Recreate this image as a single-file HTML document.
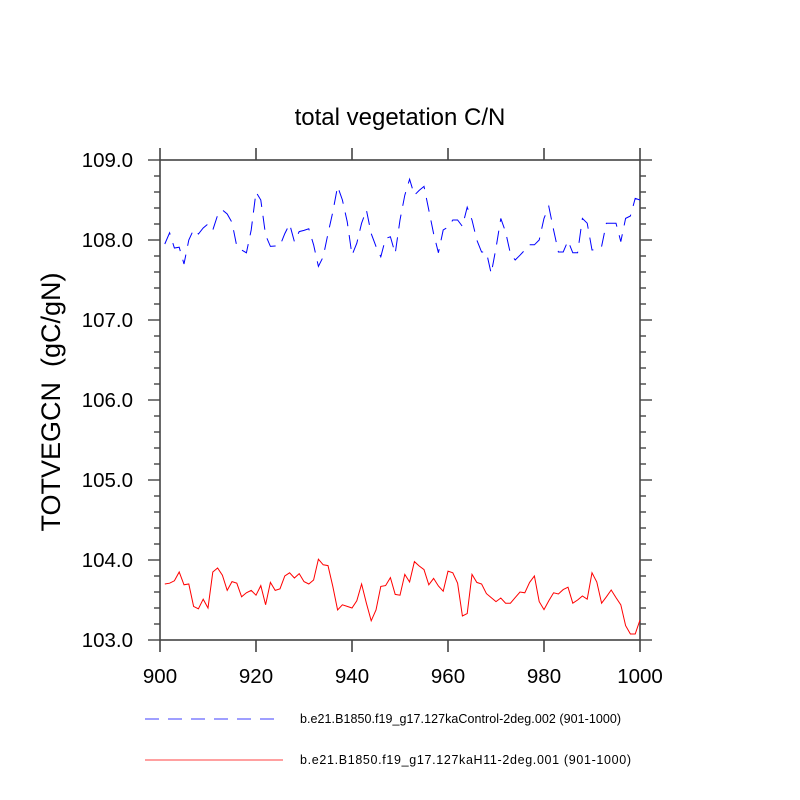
<!DOCTYPE html>
<html><head><meta charset="utf-8"><style>body{margin:0;background:#fff}svg{display:block}text{font-family:"Liberation Sans",sans-serif}</style></head>
<body>
<svg id="chart" width="800" height="800" viewBox="0 0 800 800" xmlns="http://www.w3.org/2000/svg">
<text x="400" y="125" text-anchor="middle" font-size="24">total vegetation C/N</text>
<text transform="translate(60,402) rotate(-90)" text-anchor="middle" font-size="27" style="white-space:pre">TOTVEGCN&#160;&#160;(gC/gN)</text>
<g id="axes"></g>
<g id="series"></g>
<g>
<line x1="145" y1="719" x2="277" y2="719" stroke="#0000ff" stroke-width="0.8" stroke-dasharray="14,9"/>
<text x="300" y="723" font-size="12.5" textLength="321">b.e21.B1850.f19_g17.127kaControl-2deg.002 (901-1000)</text>
<line x1="145" y1="760" x2="283" y2="760" stroke="#ff0000" stroke-width="0.8"/>
<text x="300" y="764" font-size="12.5" textLength="331">b.e21.B1850.f19_g17.127kaH11-2deg.001 (901-1000)</text>
</g>
</svg>
<script>
const xTicks=[900,920,940,960,980,1000];
const yTicks=[103,104,105,106,107,108,109];
const yTickLabels=["103.0","104.0","105.0","106.0","107.0","108.0","109.0"];
const controlValues=[107.95,108.09,107.90,107.91,107.70,108.00,108.13,108.075,108.15,108.20,
108.125,108.31,108.375,108.325,108.22,107.92,107.875,107.84,108.125,108.60,
108.50,108.06,107.92,107.925,107.93,108.08,108.20,107.98,108.105,108.12,
108.14,107.94,107.67,107.79,108.08,108.35,108.67,108.50,108.23,107.81,
107.96,108.21,108.375,108.08,107.92,107.79,108.02,108.04,107.83,108.25,
108.56,108.76,108.56,108.62,108.67,108.375,108.08,107.84,108.125,108.16,
108.25,108.25,108.17,108.41,108.25,108.0,107.85,107.85,107.58,107.90,
108.27,108.10,107.83,107.75,107.81,107.875,107.94,107.94,108.0,108.27,
108.42,108.125,107.85,107.85,107.99,107.84,107.84,108.27,108.21,107.875,
107.88,107.92,108.21,108.21,108.21,107.98,108.27,108.30,108.52,108.50];
const h11Values=[103.70,103.71,103.74,103.85,103.69,103.70,103.42,103.39,103.51,103.40,
103.85,103.90,103.81,103.62,103.73,103.71,103.54,103.59,103.62,103.56,
103.68,103.44,103.72,103.62,103.64,103.80,103.84,103.775,103.83,103.73,
103.70,103.75,104.01,103.94,103.93,103.67,103.375,103.44,103.42,103.40,
103.49,103.70,103.46,103.24,103.375,103.67,103.68,103.78,103.57,103.56,
103.82,103.725,103.98,103.925,103.88,103.69,103.77,103.675,103.61,103.86,
103.84,103.71,103.30,103.33,103.82,103.72,103.70,103.58,103.53,103.48,
103.525,103.46,103.46,103.53,103.60,103.59,103.72,103.80,103.48,103.38,
103.49,103.59,103.575,103.63,103.66,103.46,103.50,103.55,103.51,103.84,
103.725,103.46,103.54,103.625,103.53,103.44,103.18,103.075,103.075,103.25];
const startYear=901;
const L=160,R=640,T=160,B=640;
const xs=v=>L+(v-900)/100*(R-L);
const ys=v=>B-(v-103)/6*(B-T);
const NS="http://www.w3.org/2000/svg";
function mk(tag,attrs,parent){const e=document.createElementNS(NS,tag);for(const k in attrs)e.setAttribute(k,attrs[k]);parent.appendChild(e);return e;}
const ax=document.getElementById('axes');
const frame=mk('rect',{x:L,y:T,width:R-L,height:B-T,fill:'none',stroke:'#444','stroke-width':1.6},ax);


xTicks.forEach(t=>{
 const x=xs(t);
 const a=mk('line',{x1:x,y1:B,x2:x,y2:B+12,stroke:'#444','stroke-width':1.6},ax);
 
 
 const b=mk('line',{x1:x,y1:T,x2:x,y2:T-12,stroke:'#444','stroke-width':1.6},ax);
 
 
 const tx=mk('text',{x:x,y:B+43,'text-anchor':'middle','font-size':20.5},ax);
 tx.textContent=t;
 
 
});
for(let v=103;v<=109.001;v+=0.2){
 const y=ys(v);const major=Math.abs(v-Math.round(v))<1e-6;const len=major?12:6;
 const a=mk('line',{x1:L,y1:y,x2:L-len,y2:y,stroke:'#444','stroke-width':1.4},ax);
 
 
 const b=mk('line',{x1:R,y1:y,x2:R+len,y2:y,stroke:'#444','stroke-width':1.4},ax);
 
 
}
yTicks.forEach((t,i)=>{
 const tx=mk('text',{x:L-27,y:ys(t)+7,'text-anchor':'end','font-size':20.5},ax);
 tx.textContent=yTickLabels[i];
 
 
});
const sg=document.getElementById('series');
function pts(arr){return arr.map((v,i)=>xs(startYear+i).toFixed(2)+','+ys(v).toFixed(2)).join(' ');}
const c=mk('polyline',{points:pts(controlValues),fill:'none',stroke:'#0000ff','stroke-width':1,'stroke-dasharray':'14,9'},sg);


const h=mk('polyline',{points:pts(h11Values),fill:'none',stroke:'#ff0000','stroke-width':1},sg);


</script>
</body></html>
